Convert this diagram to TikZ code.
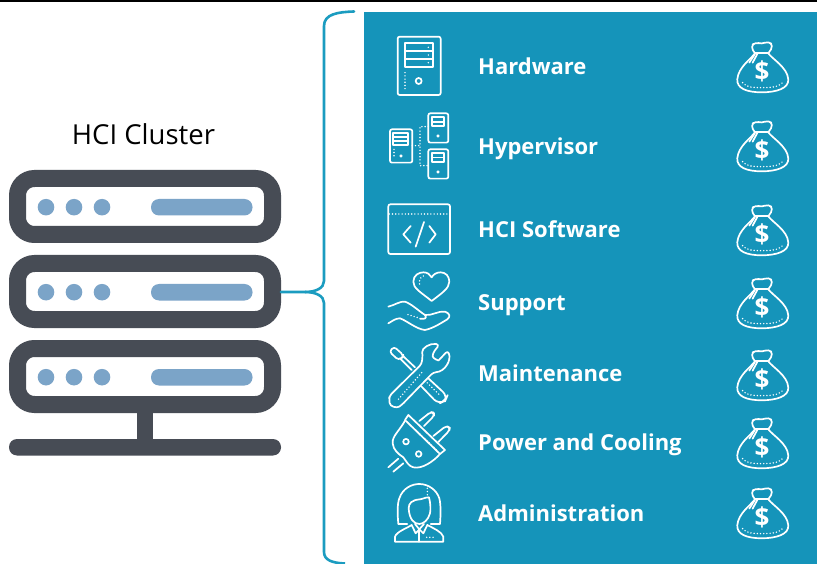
\documentclass[tikz,border=0pt]{standalone}
\usepackage{fontspec}
\setmainfont{Open Sans}
\definecolor{panel}{HTML}{1594BA}
\definecolor{brace}{HTML}{1B9CC0}
\definecolor{dark}{HTML}{474C55}
\definecolor{soft}{HTML}{7BA4C8}
\tikzset{
  ico/.style={draw=white,line width=1.7pt,line join=round,line cap=round},
  dots/.style={draw=white,line width=1.6pt,line cap=round,dash pattern=on 0pt off 3.2pt},
  label/.style={text=white,font=\fontsize{22}{24}\selectfont\bfseries,anchor=base west,inner sep=0pt},
  frame/.style={draw=dark,line width=17pt,rounded corners=17pt,fill=white},
  led/.style={fill=soft,circle,inner sep=0pt,minimum size=16.6pt},
  pill/.style={fill=soft,rounded corners=8pt},
  zoomA/.style={shift={(370,#1)},x=0.3333pt,y=-0.3333pt}
}
\newcommand{\moneybag}[1]{%
\begin{scope}[zoomA=0]
\begin{scope}[shift={(1050,#1)}]
\path[ico,rounded corners=4pt] (105,70) -- (92,50) -- (106,36) -- (125,43) -- (146,33) -- (160,48) -- (145,70);
\path[ico] (105,70) -- (145,70);
\path[ico] (105,70) .. controls (92,88) and (55,112) .. (52,148) .. controls (50,175) and (80,187) .. (125,187) .. controls (170,187) and (207,175) .. (205,148) .. controls (202,112) and (158,88) .. (145,70);
\path[ico] (105,72) -- (88,98);
\path[ico] (112,72) -- (98,98);
\path[dots] (68,158) .. controls (78,172) and (100,173) .. (125,173) .. controls (150,173) and (175,172) .. (188,158);
\node[inner sep=0pt,text=white,font=\fontsize{26}{26}\selectfont\bfseries] at (126,125) {\$};
\end{scope}
\end{scope}}
\begin{document}
\begin{tikzpicture}[x=1pt,y=-1pt]
\useasboundingbox (0,0) rectangle (817,564);
\fill[white] (0,0) rectangle (817,564);
\fill[black] (0,0) rectangle (817,1.7);
% panel
\fill[panel] (364,12) rectangle (817,564);
% title
\node[font=\fontsize{27.5}{28}\selectfont,inner sep=0pt] (title) at (143.5,134) {HCI Cluster};
% servers
\foreach \n/\yy in {a/178.5,b/263.5,c/348.5}{
  \draw[frame] (17.5,\yy) rectangle (272.5,\yy+56);
  \foreach \xx in {46,74,102}{\node[led] at (\xx,\yy+28.7) {};}
  \fill[pill] (151,\yy+20.5) rectangle (252.5,\yy+37);
}
\coordinate (srv) at (281,292);
\fill[dark] (137,412) rectangle (153,442);
\fill[dark,rounded corners=8pt] (9,439) rectangle (281,455.5);
% brace
\coordinate (bt) at (354,11.5);
\coordinate (bb) at (345,563.5);
\draw[brace,line width=2.6pt,line cap=round] (bt) .. controls (338,12) and (324,14) .. (324,26) -- (324,281) .. controls (324,288) and (316,292) .. (305,292) -- (srv);
\draw[brace,line width=2.6pt] (305,292) .. controls (316,292) and (324,296) .. (324,303) -- (324,552) .. controls (324,560) and (332,563) .. (bb);
% labels
\node[label] (l1) at (478,74.8) {Hardware};
\node[label] (l2) at (478,154.8) {Hypervisor};
\node[label] (l3) at (478,237.8) {HCI Software};
\node[label] (l4) at (478,310.8) {Support};
\node[label] (l5) at (478,381.3) {Maintenance};
\node[label] (l6) at (478,450.3) {Power and Cooling};
\node[label] (l7) at (478,521.3) {Administration};
% bags
\foreach \o in {90,327,579,798,1014,1218,1428}{\moneybag{\o}}
% zoom 1 icons
\begin{scope}[zoomA=0]
\path[ico,rounded corners=2pt] (83,110) rectangle (212,285);
\path[ico] (105,130) rectangle (190,200);
\path[ico] (105,154) -- (190,154) (105,177) -- (190,177);
\path[dots] (175,142) -- (175,143) (175,165) -- (175,166) (175,188) -- (175,189);
\path[dots] (105,218) -- (105,268);
\path[ico] (146,243) circle (3pt);
% hypervisor
\path[ico,rounded corners=2pt] (60,388) rectangle (127,488);
\path[ico] (70,398) rectangle (115,435);
\path[ico] (70,410) -- (115,410) (70,423) -- (115,423);
\path[dots] (72,448) -- (72,476);
\path[ico,fill=white] (93,468) circle (0.8pt);
\foreach \yy in {340,448}{
  \path[ico,rounded corners=2pt] (175,\yy) rectangle (235,\yy+88);
  \path[ico] (187,\yy+12) rectangle (222,\yy+38);
  \path[ico] (187,\yy+25) -- (222,\yy+25);
  \path[ico,fill=white] (204,\yy+68) circle (0.8pt);
}
\path[dots] (175,380) -- (150,380) -- (150,497) -- (175,497);
\path[dots] (127,437) -- (150,437);
\end{scope}
% zoom 2 icons
\begin{scope}[zoomA=190]
\path[ico,rounded corners=2pt] (55,192) -- (55,43) -- (240,43) -- (240,192) -- cycle;
\path[dots] (58,72) -- (238,72);
\path[ico] (122,108) -- (100,133) -- (122,158);
\path[ico] (162,96) -- (137,170);
\path[ico] (178,108) -- (197,133) -- (178,158);
% heart
\path[ico] (185,333) .. controls (150,305) and (130,295) .. (130,275) .. controls (130,255) and (148,247) .. (160,247) .. controls (172,247) and (180,253) .. (185,262) .. controls (190,253) and (200,247) .. (212,247) .. controls (228,247) and (238,260) .. (238,275) .. controls (238,295) and (215,310) .. (185,333) -- cycle;
\path[dots] (160,258) .. controls (150,262) and (146,272) .. (149,286);
% hand
\path[ico] (55,350) .. controls (75,345) and (90,333) .. (105,335) .. controls (125,342) and (145,362) .. (165,375) .. controls (172,385) and (165,388) .. (150,386);
\path[ico] (165,375) .. controls (185,378) and (205,362) .. (225,365) .. controls (240,370) and (242,380) .. (232,388) .. controls (215,398) and (190,415) .. (165,420) .. controls (140,418) and (110,392) .. (90,385) .. controls (75,385) and (65,395) .. (55,400);
\path[dots] (114,374) -- (150,385);
% screwdriver
\path[ico,rounded corners=3pt] (58,485) -- (72,470) -- (100,495) -- (98,503) -- (85,510) -- cycle;
\path[ico] (90,505) -- (125,540);
\path[ico] (98,497) -- (135,532);
\path[ico,rounded corners=6pt] (148,540) -- (232,618) -- (226,632) -- (205,642) -- (128,562);
\path[dots] (165,572) -- (212,618);
% wrench
\path[ico,fill=panel,rounded corners=3pt] (158,495) .. controls (155,475) and (180,458) .. (208,464) -- (188,490) .. controls (188,505) and (205,512) .. (212,505) -- (233,482) .. controls (245,510) and (225,545) .. (190,547) -- (95,645) .. controls (80,655) and (60,650) .. (58,630) -- (58,618) -- (155,522) -- cycle;
\path[dots] (155,548) -- (85,628);
\end{scope}
% plug
\begin{scope}[zoomA=380]
\path[ico] (105,120) -- (115,105) -- (225,210) -- (210,222) -- cycle;
\path[ico] (105,122) .. controls (90,150) and (65,170) .. (68,190) .. controls (70,210) and (85,222) .. (100,232) .. controls (110,245) and (115,258) .. (130,262) .. controls (155,268) and (190,245) .. (210,222);
\path[dots] (122,136) -- (200,210);
\path[ico,rounded corners=3pt] (148,123) -- (182,96) -- (192,98) -- (192,108) -- (162,138);
\path[ico,rounded corners=3pt] (190,168) -- (228,138) -- (240,142) -- (238,152) -- (205,186);
\path[ico] (108,185) circle (2.8pt);
\path[ico] (146,222) circle (2.8pt);
\path[ico] (55,262) -- (85,236);
\path[ico] (70,275) -- (100,250);
% woman
\path[ico] (112,432) -- (85,432) .. controls (82,400) and (82,370) .. (88,355) .. controls (98,325) and (125,312) .. (148,312) .. controls (175,312) and (200,330) .. (208,355) .. controls (213,375) and (212,405) .. (210,432) -- (182,432);
\path[ico] (116,385) .. controls (116,370) and (125,360) .. (150,358) .. controls (165,355) and (172,350) .. (177,352) .. controls (182,370) and (182,390) .. (180,400) .. controls (175,420) and (160,432) .. (148,432) .. controls (132,432) and (118,418) .. (116,385) -- cycle;
\path[dots] (172,325) -- (172,352);
\path[ico] (75,485) -- (75,470) .. controls (80,455) and (110,445) .. (125,435) -- (137,460) -- (148,448) -- (160,460) -- (172,435) .. controls (190,445) and (215,455) .. (220,470) -- (220,485) -- cycle;
\path[ico] (135,432) -- (148,448) -- (162,432);
\path[ico] (148,448) -- (148,485);
\path[dots] (170,472) -- (198,472);
\end{scope}
\end{tikzpicture}
\end{document}
